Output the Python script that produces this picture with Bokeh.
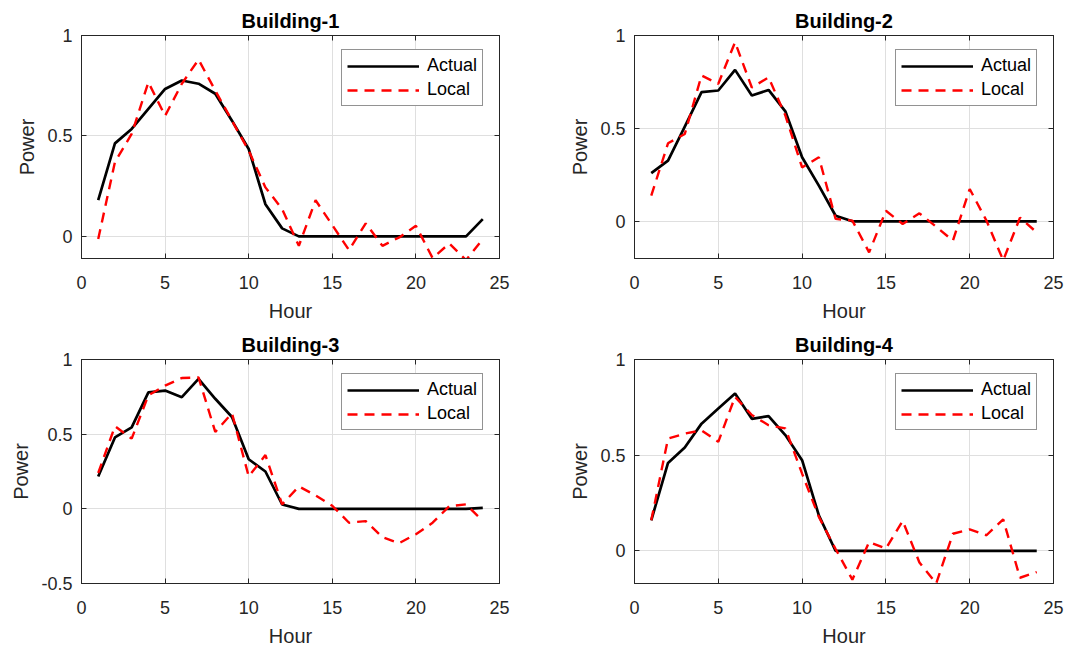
from bokeh.plotting import figure
from bokeh.layouts import gridplot
from bokeh.models import LinearAxis, FixedTicker, Range1d, NumeralTickFormatter
from bokeh.embed import file_html
from bokeh.resources import INLINE

hours = list(range(1, 25))

b1_actual = [0.18, 0.463, 0.535, 0.635, 0.734, 0.776, 0.76, 0.71, 0.576, 0.435, 0.16, 0.04,
             0, 0, 0, 0, 0, 0, 0, 0, 0, 0, 0, 0.086]
b1_local = [-0.013, 0.37, 0.51, 0.767, 0.60, 0.76, 0.88, 0.726, 0.576, 0.427, 0.244, 0.136,
            -0.047, 0.18, 0.056, -0.068, 0.065, -0.047, -0.005, 0.053, -0.108, -0.035, -0.118, -0.013]

b2_actual = [0.259, 0.327, 0.51, 0.695, 0.704, 0.815, 0.677, 0.707, 0.592, 0.345, 0.192, 0.03,
             0, 0, 0, 0, 0, 0, 0, 0, 0, 0, 0, 0]
b2_local = [0.138, 0.42, 0.47, 0.785, 0.74, 0.964, 0.72, 0.775, 0.57, 0.29, 0.345, 0.013,
            0.004, -0.167, 0.057, -0.014, 0.043, -0.029, -0.104, 0.174, 0.004, -0.21, 0.02, -0.06]

b3_actual = [0.217, 0.478, 0.545, 0.78, 0.792, 0.748, 0.87, 0.737, 0.615, 0.332, 0.25, 0.029,
             0, 0, 0, 0, 0, 0, 0, 0, 0, 0, 0, 0.007]
b3_local = [0.24, 0.553, 0.47, 0.76, 0.825, 0.876, 0.88, 0.515, 0.64, 0.217, 0.36, 0.03,
            0.15, 0.09, 0.02, -0.093, -0.082, -0.19, -0.23, -0.17, -0.093, 0.018, 0.03, -0.082]

b4_actual = [0.16, 0.46, 0.54, 0.665, 0.744, 0.822, 0.69, 0.704, 0.605, 0.474, 0.186, 0,
             0, 0, 0, 0, 0, 0, 0, 0, 0, 0, 0, 0]
b4_local = [0.16, 0.587, 0.613, 0.63, 0.57, 0.805, 0.71, 0.657, 0.64, 0.404, 0.178, 0.01,
            -0.15, 0.047, 0.012, 0.157, -0.06, -0.17, 0.09, 0.113, 0.082, 0.165, -0.14, -0.11]

titles = ["Building-1", "Building-2", "Building-3", "Building-4"]
actual_series = [b1_actual, b2_actual, b3_actual, b4_actual]
local_series = [b1_local, b2_local, b3_local, b4_local]
x_ticks = [0, 5, 10, 15, 20, 25]
y_ticks_list = [[0, 0.5, 1], [0, 0.5, 1], [-0.5, 0, 0.5, 1], [0, 0.5, 1]]
y_lows = [-0.11, -0.2, -0.5, -0.17]
x_label = "Hour"
y_label = "Power"

FONT = "Liberation Sans"
AX = "#262626"

# (width, height, left, right, top, bottom)
geoms = [(535, 325, 81, 36, 35, 67), (534, 325, 99, 16, 35, 67),
         (535, 325, 81, 36, 34, 67), (534, 325, 99, 16, 34, 67)]

plots = []
for i in range(4):
    w, h, bl, br, bt, bb = geoms[i]
    p = figure(width=w, height=h, output_backend="svg", toolbar_location=None,
               x_range=Range1d(0, 25), y_range=Range1d(y_lows[i], 1),
               min_border_left=bl, min_border_right=br, min_border_top=bt, min_border_bottom=bb,
               title=titles[i])
    p.title.text_font = FONT
    p.title.text_font_size = "20px"
    p.title.text_font_style = "bold"
    p.title.text_color = "#000000"
    p.title.align = "center"
    p.title.standoff = 7
    p.outline_line_color = AX
    p.outline_line_width = 1
    p.outline_line_alpha = 1

    p.line(hours, actual_series[i], line_color="#000000", line_width=2.7, legend_label="Actual")
    p.line(hours, local_series[i], line_color="#ff0000", line_width=2.4, line_dash="10 7",
           legend_label="Local")

    xt = FixedTicker(ticks=x_ticks)
    yt = FixedTicker(ticks=y_ticks_list[i])
    p.xaxis.ticker = xt
    p.yaxis.ticker = yt
    p.yaxis.formatter = NumeralTickFormatter(format="0.[0]")
    for ax in (p.xaxis[0], p.yaxis[0]):
        ax.major_tick_in = 5
        ax.major_tick_out = 0
        ax.minor_tick_line_color = None
        ax.axis_line_color = AX
        ax.major_tick_line_color = AX
        ax.major_label_text_font = FONT
        ax.major_label_text_font_size = "18px"
        ax.major_label_text_color = AX
        ax.axis_label_text_font = FONT
        ax.axis_label_text_font_size = "20px"
        ax.axis_label_text_font_style = "normal"
        ax.axis_label_text_color = AX
    p.xaxis.axis_label = x_label
    p.yaxis.axis_label = y_label
    p.xaxis.major_label_standoff = 17
    p.xaxis.axis_label_standoff = 8
    p.yaxis.major_label_standoff = 9
    p.yaxis.axis_label_standoff = 6

    for loc, tk in (("above", xt), ("right", yt)):
        ax2 = LinearAxis(ticker=tk, major_label_text_font_size="1px", major_label_text_color=None,
                         major_label_standoff=0,
                         major_tick_in=5, major_tick_out=0, minor_tick_line_color=None,
                         axis_line_color=AX, major_tick_line_color=AX)
        p.add_layout(ax2, loc)

    p.xgrid.ticker = xt
    p.ygrid.ticker = yt
    p.grid.grid_line_color = "#dfdfdf"
    p.grid.grid_line_width = 1

    fw = w - bl - br
    fh = h - bt - bb
    lg = p.legend[0]
    lg.location = (fw - 18 - 140, fh - 13 - 58)
    lg.label_text_font = FONT
    lg.label_text_font_size = "18px"
    lg.label_text_color = "#000000"
    lg.glyph_width = 72
    lg.glyph_height = 18
    lg.label_height = 18
    lg.label_standoff = 8
    lg.spacing = 3
    lg.padding = 5
    lg.margin = 0
    lg.border_line_color = AX
    lg.border_line_width = 1
    lg.background_fill_color = "#ffffff"
    lg.background_fill_alpha = 1
    plots.append(p)

grid = gridplot([[plots[0], plots[1]], [plots[2], plots[3]]], toolbar_location=None)

open("out.html", "w").write(file_html(grid, INLINE))
